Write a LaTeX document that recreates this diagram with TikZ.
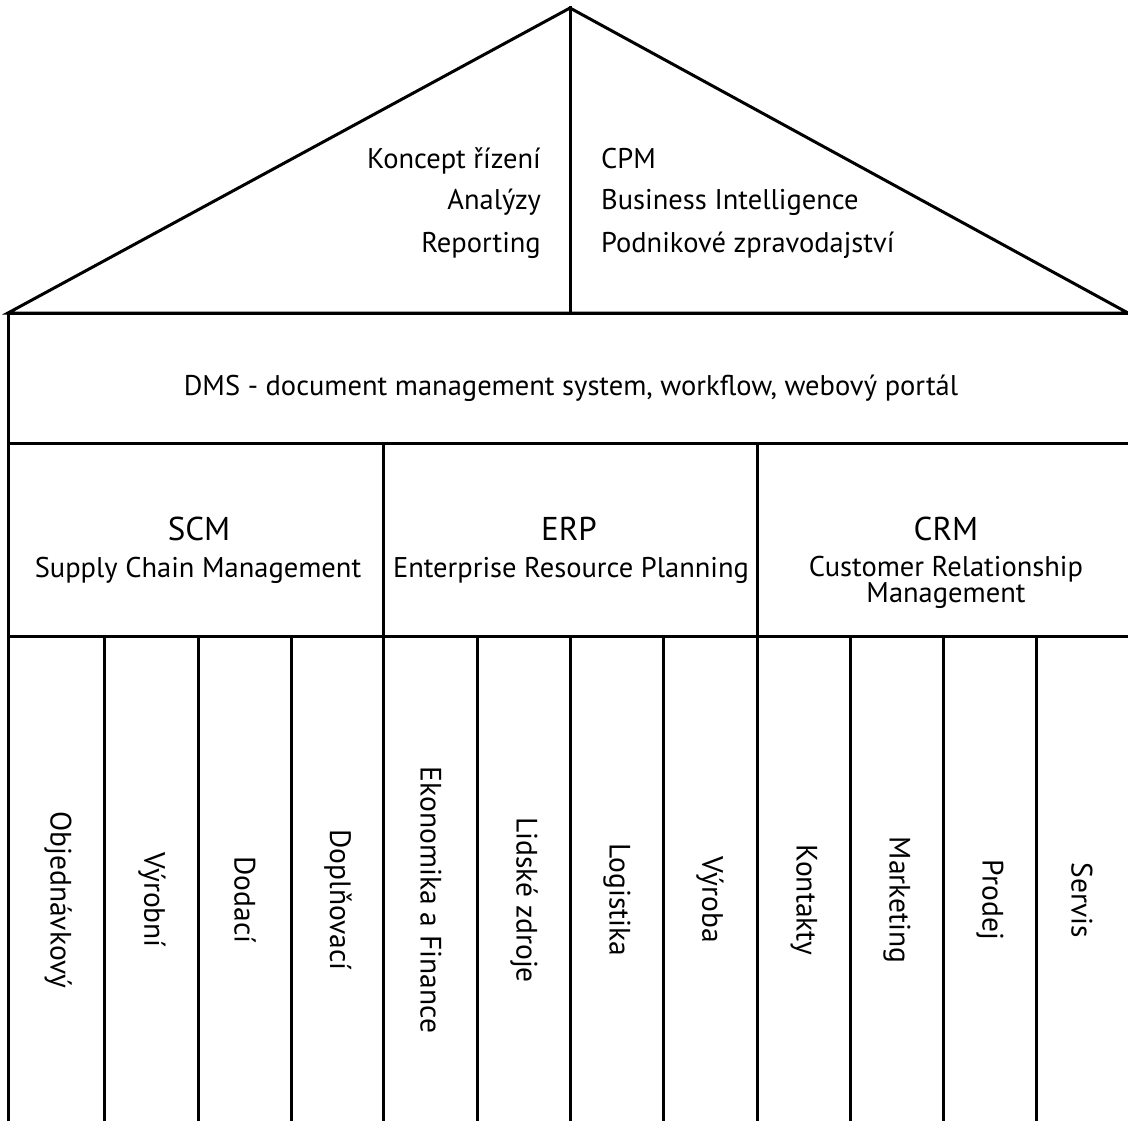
\documentclass[tikz,border=0pt]{standalone}
\usepackage{fontspec}
\setmainfont{PT Sans}
\tikzset{
	stena/.style={line width=3pt, line cap=rect},
	popis/.style={font=\fontsize{28.5}{26}\selectfont, inner sep=0pt},
	nadpis/.style={popis, font=\fontsize{33}{30}\selectfont, anchor=base},
	sloupec/.style={popis, font=\fontsize{29.5}{26}\selectfont, rotate=-90, anchor=center}
}
\begin{document}
\begin{tikzpicture}[x=1pt,y=-1pt]
	\useasboundingbox (0,0) rectangle (1128,1121);
	% strecha
	\coordinate (vrchol) at (570,8);
	\coordinate (levy) at (8,313);
	\coordinate (pravy) at (1128,313);
	\draw[stena, line join=miter] (levy) -- (vrchol) -- (pravy) -- cycle;
	\draw[stena] (vrchol) -- (570,313);
	\node[popis, anchor=base east] (koncept) at (541,168) {Koncept řízení};
	\node[popis, anchor=base east] (analyzy) at (541,210) {Analýzy};
	\node[popis, anchor=base east] (report) at (541,252) {Reporting};
	\node[popis, anchor=base west] (cpm) at (601,168) {CPM};
	\node[popis, anchor=base west] (bi) at (601,210) {Business Intelligence};
	\node[popis, anchor=base west] (zprav) at (601,252) {Podnikové zpravodajství};
	% DMS
	\draw[stena] (8,1130) -- (8,313) -- (1130,313);
	\draw[stena] (8,443) -- (1130,443);
	\node[popis, anchor=base] (dms) at (571,395) {DMS - document management system, workflow, webový portál};
	% SCM, ERP, CRM
	\draw[stena] (8,636) -- (1130,636);
	\draw[stena] (383,443) -- (383,636);
	\draw[stena] (757,443) -- (757,636);
	\node[nadpis] (scm) at (199,540) {SCM};
	\node[popis, anchor=base] (scmtxt) at (198,577) {Supply Chain Management};
	\node[nadpis] (erp) at (569,540) {ERP};
	\node[popis, anchor=base] (erptxt) at (571,577) {Enterprise Resource Planning};
	\node[nadpis] (crm) at (946,540) {CRM};
	\node[popis, anchor=base] (crmtxt) at (946,576) {Customer Relationship};
	\node[popis, anchor=base] (crmtxt2) at (946,602) {Management};
	% sloupce
	\foreach \x in {104,198,291,383,477,570,663,757,850,943,1036}
		\draw[stena] (\x,636) -- (\x,1130);
	\foreach \nazev/\x [count=\i] in {Objednávkový/58, Výrobní/152, Dodací/245, Doplňovací/338, Ekonomika a Finance/431, Lidské zdroje/524, Logistika/617, Výroba/710, Kontakty/804, Marketing/897, Prodej/990, Servis/1082}
		\node[sloupec] (s\i) at (\x,900) {\nazev};
\end{tikzpicture}
\end{document}
